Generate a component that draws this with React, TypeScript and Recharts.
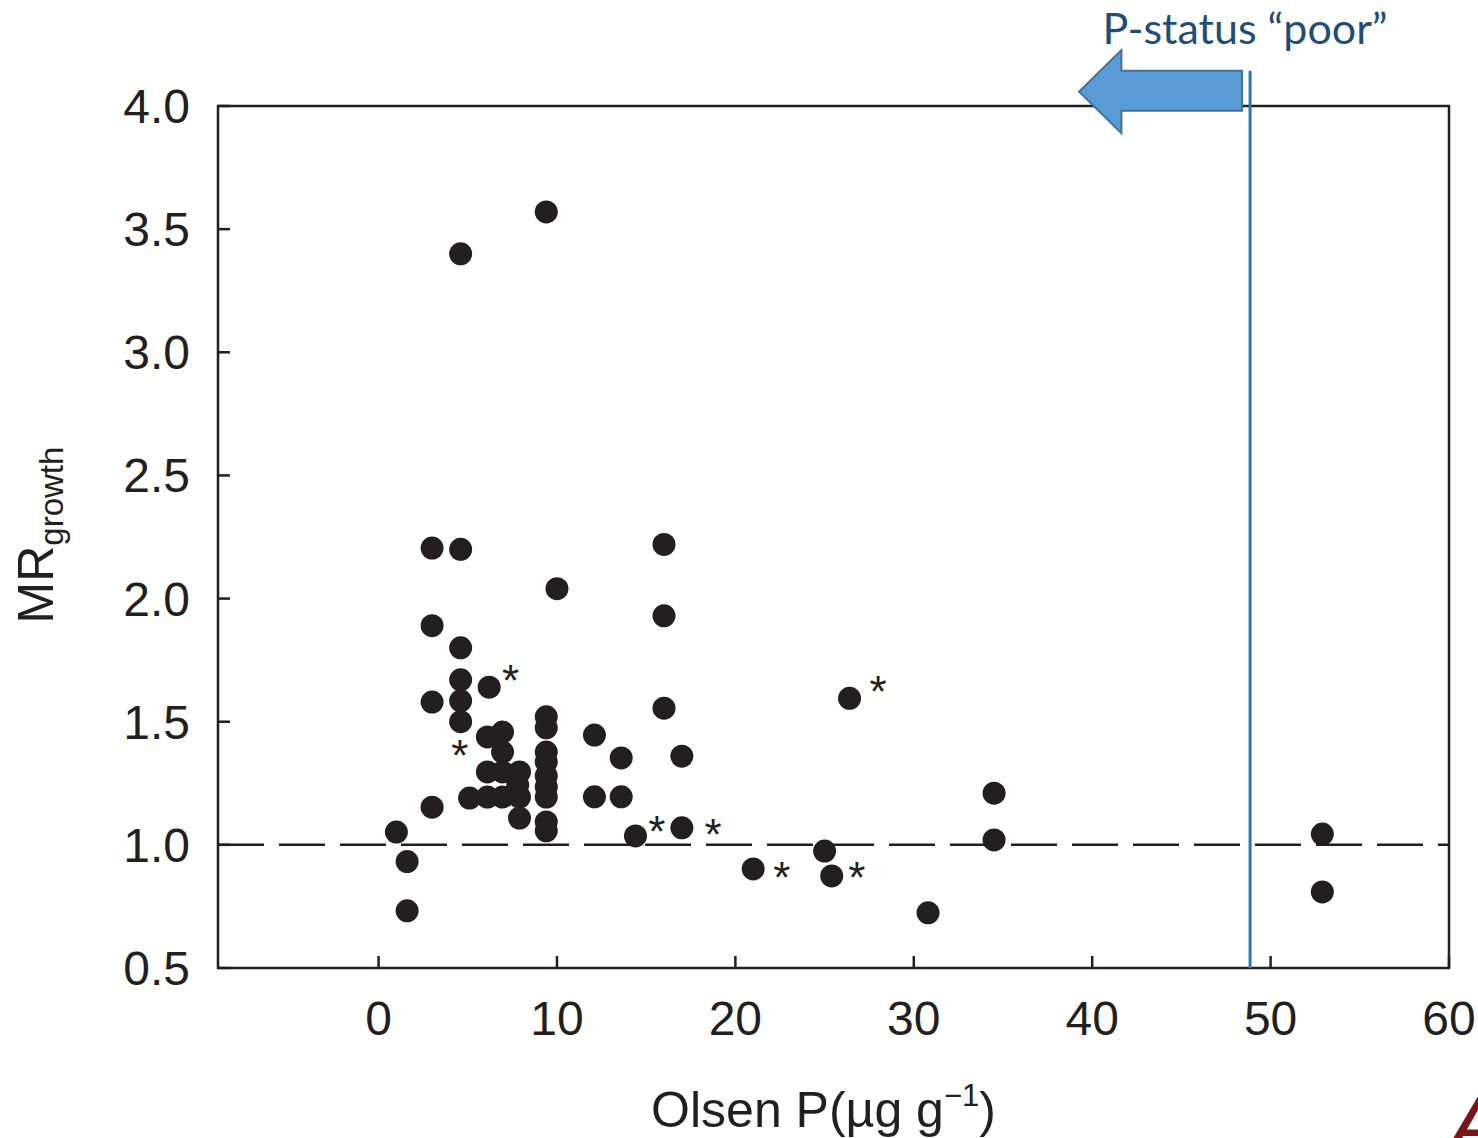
import { ScatterChart, Scatter, XAxis, YAxis, ReferenceLine, ReferenceArea, Label } from "recharts";

// Olsen P (µg/g) and MR growth per sample
const olsenP = [
    4.6, 9.4, 3.0, 4.6, 16.0, 10.0, 16.0, 3.0, 4.6, 4.6, 6.2, 3.0, 4.6, 4.6, 26.4, 16.0,
    9.4, 9.4, 9.4, 9.4, 9.4, 9.4, 9.4, 9.4, 9.4,
    12.1, 13.6, 17.0,
    6.1, 6.95, 6.95, 6.1, 6.95, 7.9, 7.8, 5.1, 6.1, 6.95, 7.9, 7.9,
    3.0, 12.1, 13.6, 1.0, 1.6, 1.6, 14.4, 17.0, 21.0, 25.0, 25.4, 30.8, 34.5, 34.5, 52.9, 52.9,
];
const mrGrowth = [
    3.40, 3.57, 2.205, 2.20, 2.22, 2.04, 1.93, 1.89, 1.80, 1.67, 1.64, 1.58, 1.585, 1.50, 1.595, 1.555,
    1.52, 1.475, 1.377, 1.337, 1.28, 1.235, 1.194, 1.093, 1.057,
    1.446, 1.353, 1.36,
    1.438, 1.458, 1.377, 1.296, 1.296, 1.296, 1.243, 1.19, 1.194, 1.194, 1.194, 1.109,
    1.153, 1.195, 1.195, 1.052, 0.932, 0.732, 1.036, 1.069, 0.902, 0.975, 0.874, 0.724, 1.21, 1.02, 1.044, 0.809,
];

// "*" marks beside some samples
const starP = [7.4, 4.55, 15.6, 18.75, 22.6, 26.8, 28.0];
const starMR = [1.706, 1.40, 1.093, 1.081, 0.906, 0.906, 1.661];

const xTicks = [0, 10, 20, 30, 40, 50, 60];
const yTicks = [0.5, 1.0, 1.5, 2.0, 2.5, 3.0, 3.5, 4.0];
const xDomain = [-9, 60];
const yDomain = [0.5, 4.0];
const refMR = 1.0;

// P-status threshold line and arrow
const thresholdP = 48.85;
const thresholdTop = 4.143;
const arrowP = [39.26, 48.4];
const arrowMR = [3.89, 4.227];

const points = olsenP.map((p, i) => ({ p, mr: mrGrowth[i] }));
const stars = starP.map((p, i) => ({ p, mr: starMR[i] }));

const ink = "#231f20";
const font = "'Liberation Sans', Arial, Helvetica, sans-serif";

const XTick = (props: any) => {
    const { x, y, payload } = props;
    return (
        <g>
            <line x1={x} y1={y} x2={x} y2={y - 12} stroke={ink} strokeWidth={2.5} />
            <text x={x} y={y + 67} textAnchor="middle" fontSize={48} fontFamily={font} fill={ink}>{payload.value}</text>
        </g>
    );
};

const YTick = (props: any) => {
    const { x, y, payload } = props;
    return (
        <g>
            <line x1={x} y1={y} x2={x + 12} y2={y} stroke={ink} strokeWidth={2.5} />
            <text x={x - 28} y={y + 17} textAnchor="end" fontSize={48} fontFamily={font} fill={ink}>{Number(payload.value).toFixed(1)}</text>
        </g>
    );
};

const Dot = (props: any) => <circle cx={props.cx} cy={props.cy} r={11.5} fill={ink} />;

const Star = (props: any) => (
    <text x={props.cx} y={props.cy + 25} textAnchor="middle" fontSize={44} fontFamily={font} fill={ink}>*</text>
);

const Arrow = (props: any) => {
    const { x, y, width: w, height: h } = props;
    const hx = x + 0.26 * w;
    const bt = y + 0.25 * h;
    const bb = y + 0.73 * h;
    const pts = [[x, y + h / 2], [hx, y], [hx, bt], [x + w, bt], [x + w, bb], [hx, bb], [hx, y + h]];
    return <polygon points={pts.map(q => q.join(",")).join(" ")} fill="#5b9bd5" stroke="#41719c" strokeWidth={2} />;
};

export default function App() {
    return (
        <div style={{ position: "absolute", left: 0, top: 0, width: 1478, height: 1138, overflow: "hidden", background: "#fff" }}>
            <ScatterChart width={1478} height={1138} margin={{ top: 106, right: 29, left: 0, bottom: 0 }}>
                <XAxis dataKey="p" type="number" domain={xDomain} ticks={xTicks} height={170}
                       axisLine={false} tickLine={false} tickSize={0} tickMargin={0} tick={XTick} allowDataOverflow>
                    <Label content={(p: any) => {
                        const vb = p.viewBox;
                        return (
                            <text x={vb.x + vb.width / 2 - 10} y={vb.y + 159} textAnchor="middle" fontSize={50} fontFamily={font} fill={ink}>
                                Olsen P(µg g<tspan fontSize={31} dy={-21}>−1</tspan><tspan dy={21}>)</tspan>
                            </text>
                        );
                    }} />
                </XAxis>
                <YAxis dataKey="mr" type="number" domain={yDomain} ticks={yTicks} width={218}
                       axisLine={false} tickLine={false} tickSize={0} tickMargin={0} tick={YTick} allowDataOverflow>
                    <Label content={(p: any) => {
                        const vb = p.viewBox;
                        const cx = 53;
                        const cy = vb.y + vb.height / 2 - 2;
                        return (
                            <text x={cx} y={cy} transform={`rotate(-90, ${cx}, ${cy})`} textAnchor="middle" fontSize={50} fontFamily={font} fill={ink}>
                                MR<tspan fontSize={33} dy={10}>growth</tspan>
                            </text>
                        );
                    }} />
                </YAxis>
                <ReferenceArea x1={xDomain[0]} x2={xDomain[1]} y1={yDomain[0]} y2={yDomain[1]}
                               fill="none" fillOpacity={0} stroke={ink} strokeWidth={2.5} />
                <ReferenceLine y={refMR} stroke={ink} strokeWidth={2.5} strokeDasharray="46 15" />
                <Scatter data={points} shape={Dot} isAnimationActive={false} />
                <Scatter data={stars} shape={Star} isAnimationActive={false} />
                <ReferenceArea x1={arrowP[0]} x2={arrowP[1]} y1={arrowMR[0]} y2={arrowMR[1]} ifOverflow="visible" shape={Arrow} />
                <ReferenceLine segment={[{ x: thresholdP, y: yDomain[0] }, { x: thresholdP, y: thresholdTop }]}
                               ifOverflow="visible" stroke="#2e75b6" strokeWidth={3}
                               label={(p: any) => {
                                   const vb = p.viewBox;
                                   return (
                                       <text x={vb.x - 5} y={vb.y - 27} textAnchor="middle" fontSize={43} fontFamily="Lato, 'Noto Sans', sans-serif" fill="#1f4e79">
                                           P-status “poor”
                                       </text>
                                   );
                               }} />
            </ScatterChart>
            <div style={{ position: "absolute", left: 1448, top: 1078, fontSize: 90, fontStyle: "italic", fontFamily: font, color: "#7a1416", lineHeight: 1 }}>A</div>
        </div>
    );
}
